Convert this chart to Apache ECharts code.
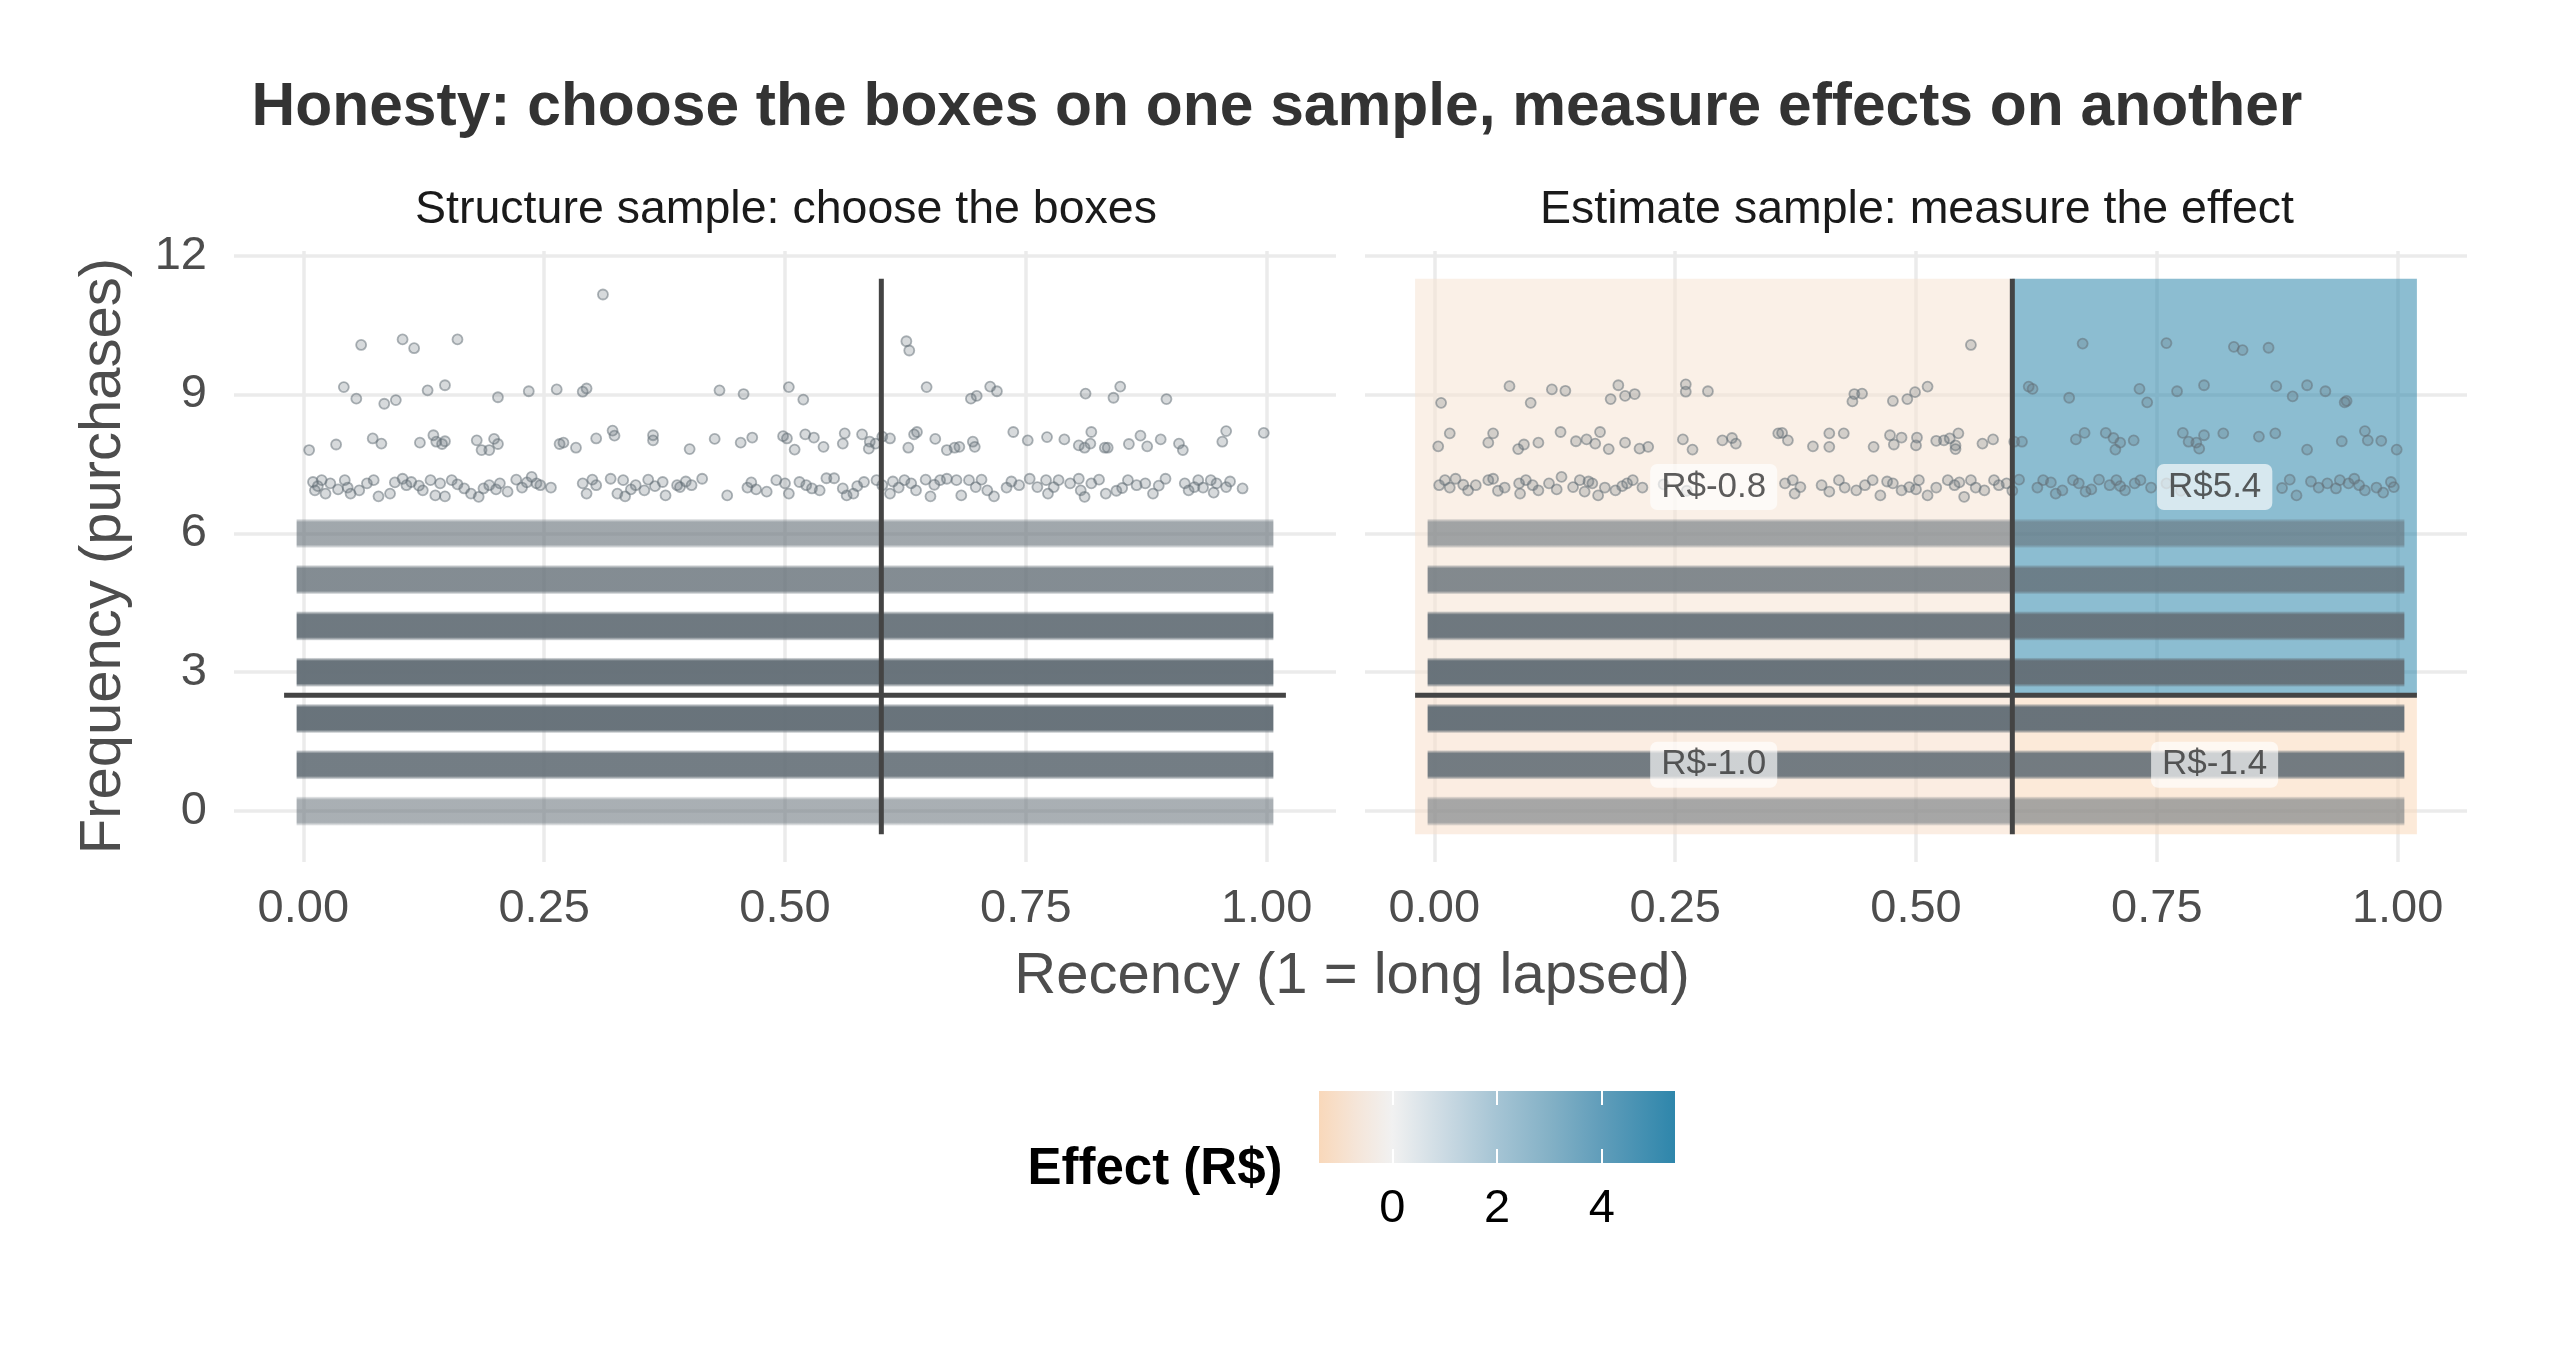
<!DOCTYPE html>
<html><head><meta charset="utf-8">
<script src="https://cdn.jsdelivr.net/npm/echarts@6/dist/echarts.min.js"></script>
<style>html,body{margin:0;padding:0;background:#fff}#c{width:2550px;height:1350px}</style>
</head><body><div id="c"></div>
<script>
// ---------- data ----------
const chartTitle = 'Honesty: choose the boxes on one sample, measure effects on another';
const panelTitles = ['Structure sample: choose the boxes', 'Estimate sample: measure the effect'];
const xTitle = 'Recency (1 = long lapsed)';
const yTitle = 'Frequency (purchases)';
const legendTitle = 'Effect (R$)';
const xTicks = [0, 0.25, 0.5, 0.75, 1];
const yTicks = [0, 3, 6, 9, 12];
const legendTicks = [0, 2, 4];
const effectRange = [-1.4, 5.4];
const splitX = 0.6;
const splitY = 2.5;
const boxX = [-0.02, 1.02];
const boxY = [-0.5, 11.5];
// leaves of the estimate sample: [x0, x1, y0, y1, effect]
const leaves = [
  [-0.02, 0.6, 2.5, 11.5, -0.8],
  [0.6, 1.02, 2.5, 11.5, 5.4],
  [-0.02, 0.6, -0.5, 2.5, -1.0],
  [0.6, 1.02, -0.5, 2.5, -1.4]
];
// dense frequency levels (0-6): estimated number of customers per level
const bandLevels = [0, 1, 2, 3, 4, 5, 6];
const bandCountsStructure = [600, 1730, 2630, 2600, 2000, 1200, 700];
const bandCountsEstimate = [620, 1730, 2630, 2600, 2000, 1200, 680];
// sparse customers (frequency 7 and above): [recency, jittered frequency]
const pointsStructure = [
  [0.311,11.16],
  [0.060,10.07],[0.103,10.19],[0.115,10.00],[0.160,10.19],[0.626,10.15],[0.629,9.95],
  [0.042,9.16],[0.055,8.91],[0.084,8.80],[0.096,8.88],[0.129,9.09],[0.147,9.20],[0.202,8.94],[0.234,9.07],[0.263,9.11],[0.290,9.06],[0.294,9.13],[0.432,9.09],[0.457,9.01],[0.504,9.16],[0.519,8.89],[0.647,9.16],[0.693,8.91],[0.699,8.97],[0.713,9.17],[0.720,9.07],[0.812,9.02],[0.841,8.93],[0.848,9.17],[0.896,8.90],
  [0.006,7.80],[0.034,7.92],[0.072,8.05],[0.081,7.94],[0.121,7.96],[0.135,8.12],[0.138,7.98],[0.144,7.93],[0.147,7.99],[0.180,8.01],[0.185,7.80],[0.193,7.80],[0.198,8.04],[0.202,7.93],[0.266,7.93],[0.270,7.96],[0.283,7.85],[0.304,8.05],[0.321,8.22],[0.323,8.11],[0.363,8.12],[0.363,8.01],[0.401,7.82],[0.427,8.04],[0.454,7.96],[0.466,8.07],[0.498,8.10],[0.502,8.05],[0.510,7.81],[0.521,8.14],[0.530,8.07],[0.540,7.87],[0.560,7.94],[0.562,8.16],[0.580,8.14],[0.587,7.83],[0.588,7.98],[0.594,7.94],[0.601,8.09],[0.609,8.05],[0.628,7.85],[0.634,8.14],[0.637,8.19],[0.656,8.04],[0.668,7.80],[0.676,7.85],[0.681,7.87],[0.695,7.98],[0.697,7.87],[0.737,8.19],[0.752,8.01],[0.772,8.08],[0.790,8.03],[0.805,7.90],[0.811,7.85],[0.817,7.94],[0.818,8.19],[0.832,7.85],[0.835,7.85],[0.857,7.93],[0.869,8.11],[0.876,7.88],[0.890,8.03],[0.909,7.94],[0.913,7.80],[0.954,7.98],[0.958,8.21],[0.997,8.17],
  [0.010,7.11],[0.012,6.93],[0.019,7.15],[0.023,6.86],[0.028,7.08],[0.043,7.15],[0.046,6.99],[0.049,6.86],[0.058,6.93],[0.066,7.08],[0.073,7.15],[0.078,6.80],[0.090,6.86],[0.103,7.18],[0.107,7.04],[0.112,7.11],[0.124,6.93],[0.132,7.15],[0.137,6.82],[0.142,7.08],[0.147,6.80],[0.154,7.15],[0.167,6.97],[0.174,6.86],[0.182,6.79],[0.187,6.97],[0.193,7.04],[0.204,7.08],[0.212,6.90],[0.221,7.16],[0.227,6.99],[0.237,7.22],[0.242,7.08],[0.246,7.04],[0.257,6.99],[0.290,7.08],[0.294,6.86],[0.304,7.04],[0.319,7.18],[0.326,6.86],[0.332,7.15],[0.334,6.80],[0.345,7.04],[0.354,6.93],[0.358,7.16],[0.373,7.11],[0.376,6.82],[0.388,7.04],[0.391,7.00],[0.403,7.04],[0.414,7.18],[0.440,6.82],[0.461,6.99],[0.470,6.95],[0.481,6.90],[0.491,7.15],[0.500,7.08],[0.504,6.86],[0.515,7.11],[0.522,7.04],[0.536,6.93],[0.543,7.19],[0.551,7.19],[0.560,6.97],[0.564,6.82],[0.571,6.86],[0.582,7.11],[0.595,7.15],[0.601,7.04],[0.609,6.86],[0.618,6.99],[0.624,7.15],[0.631,7.08],[0.636,6.93],[0.646,7.16],[0.651,6.80],[0.661,7.15],[0.668,7.18],[0.678,7.15],[0.683,6.82],[0.691,7.15],[0.704,7.16],[0.710,6.93],[0.717,6.80],[0.730,6.99],[0.743,7.04],[0.754,7.18],[0.762,7.00],[0.771,7.15],[0.773,6.86],[0.784,7.15],[0.796,7.08],[0.805,7.18],[0.807,6.93],[0.811,6.79],[0.826,7.16],[0.833,6.86],[0.844,6.92],[0.856,7.15],[0.865,7.04],[0.874,7.08],[0.882,6.86],[0.895,7.18],[0.915,7.08],[0.919,6.93],[0.929,7.15],[0.934,6.99],[0.942,7.15],[0.948,7.08],[0.958,7.00],[0.975,6.97],
  [0.015,7.02],[0.036,6.95],[0.095,7.10],[0.120,7.03],[0.160,7.06],[0.200,6.95],[0.232,7.10],[0.300,7.16],[0.340,6.95],[0.365,7.02],[0.397,7.12],[0.465,7.10],[0.528,6.97],[0.575,7.02],[0.612,7.12],[0.655,7.05],[0.698,7.00],[0.735,7.12],[0.779,7.00],[0.818,7.08],[0.850,6.98],[0.888,7.03],[0.925,7.00],[0.945,6.88],[0.962,7.12]
];
const pointsEstimate = [
  [0.557,10.07],[0.673,10.10],[0.760,10.11],[0.830,10.03],[0.839,9.96],[0.866,10.01],
  [0.007,8.82],[0.078,9.18],[0.100,8.82],[0.122,9.11],[0.136,9.08],[0.183,8.90],[0.191,9.20],[0.198,8.97],[0.208,9.01],[0.261,9.22],[0.261,9.06],[0.284,9.07],[0.434,8.85],[0.436,9.01],[0.444,9.02],[0.476,8.86],[0.491,8.90],[0.499,9.05],[0.512,9.17],[0.617,9.17],[0.621,9.12],[0.659,8.93],[0.732,9.12],[0.740,8.83],[0.771,9.07],[0.799,9.20],[0.874,9.18],[0.891,8.96],[0.906,9.20],[0.925,9.07],[0.945,8.83],[0.947,8.86],
  [0.004,7.88],[0.016,8.16],[0.056,7.96],[0.061,8.16],[0.087,7.82],[0.093,7.92],[0.108,7.96],[0.131,8.19],[0.147,7.99],[0.158,8.03],[0.167,7.94],[0.172,8.19],[0.181,7.82],[0.198,7.96],[0.213,7.83],[0.222,7.87],[0.258,8.03],[0.268,7.81],[0.299,8.01],[0.309,8.06],[0.313,7.94],[0.357,8.16],[0.361,8.17],[0.367,8.01],[0.393,7.88],[0.410,8.16],[0.410,7.87],[0.425,8.16],[0.456,7.87],[0.473,8.12],[0.477,7.92],[0.485,8.07],[0.500,7.90],[0.501,8.07],[0.521,8.00],[0.529,8.01],[0.535,8.05],[0.541,7.82],[0.541,7.90],[0.544,8.16],[0.569,7.94],[0.580,8.03],[0.602,7.98],[0.610,7.98],[0.666,8.03],[0.675,8.17],[0.697,8.17],[0.705,8.06],[0.707,7.81],[0.712,7.96],[0.726,8.01],[0.777,8.17],[0.783,7.98],[0.791,7.96],[0.794,7.83],[0.799,8.12],[0.819,8.16],[0.856,8.09],[0.873,8.16],[0.906,7.81],[0.942,7.99],[0.966,8.21],[0.969,8.01],[0.983,8.00],[0.999,7.81],
  [0.005,7.04],[0.011,7.15],[0.016,6.99],[0.022,7.18],[0.035,6.93],[0.043,7.04],[0.056,7.15],[0.061,7.18],[0.073,6.99],[0.088,7.08],[0.089,6.86],[0.102,7.04],[0.108,6.93],[0.119,7.08],[0.132,7.22],[0.144,7.00],[0.151,7.15],[0.156,6.90],[0.164,7.08],[0.170,6.82],[0.177,6.99],[0.188,6.93],[0.200,7.08],[0.206,7.15],[0.216,6.99],[0.364,7.08],[0.372,7.15],[0.374,6.86],[0.402,7.04],[0.420,7.15],[0.426,6.99],[0.438,6.93],[0.447,7.04],[0.455,7.15],[0.463,6.82],[0.476,7.08],[0.485,6.93],[0.493,7.00],[0.503,7.15],[0.512,6.82],[0.521,6.99],[0.533,7.15],[0.540,7.04],[0.550,6.79],[0.557,7.15],[0.562,6.99],[0.571,6.93],[0.581,7.15],[0.586,7.04],[0.594,7.08],[0.607,7.16],[0.626,6.99],[0.632,7.15],[0.645,6.86],[0.652,6.93],[0.663,7.15],[0.669,7.08],[0.682,6.95],[0.690,7.16],[0.701,7.04],[0.708,7.15],[0.717,6.93],[0.727,7.08],[0.733,7.15],[0.744,6.99],[0.888,7.16],[0.895,6.82],[0.918,6.99],[0.927,7.08],[0.936,6.97],[0.940,7.15],[0.949,7.08],[0.955,7.18],[0.966,6.93],[0.978,6.99],[0.993,7.11],[0.996,7.00],
  [0.030,7.05],[0.066,6.92],[0.095,7.15],[0.127,6.95],[0.160,7.12],[0.195,7.02],[0.238,7.06],[0.262,6.92],[0.380,7.00],[0.410,6.90],[0.470,7.12],[0.500,6.95],[0.545,7.10],[0.600,6.92],[0.640,7.10],[0.676,6.90],[0.712,7.02],[0.760,7.08],[0.775,6.92],[0.880,6.98],[0.910,7.12],[0.960,7.04],[0.985,6.88]
];
// diverging fill scale (value -> rgb)
const scaleStops = [
  [-1.4, [249, 216, 186]], [-0.7, [245, 229, 216]], [0, [241, 241, 241]],
  [1, [203, 218, 227]], [2, [165, 196, 212]], [3, [132, 177, 198]],
  [4, [96, 157, 186]], [5.4, [46, 134, 171]]
];

// ---------- helpers ----------
function colorAt(v) {
  for (let i = 0; i < scaleStops.length - 1; i++) {
    const [a, ca] = scaleStops[i], [b, cb] = scaleStops[i + 1];
    if (v <= b || i === scaleStops.length - 2) {
      const t = Math.max(0, Math.min(1, (v - a) / (b - a)));
      return 'rgb(' + ca.map((c, k) => Math.round(c + (cb[k] - c) * t)).join(',') + ')';
    }
  }
}
const FONT = '"Liberation Sans", Arial, Helvetica, sans-serif';
const PT = 'rgba(100,111,119,';
const gridColor = '#EBEBEB';

function panelX(idx) {
  return {
    gridIndex: idx, type: 'value', min: -0.072, max: 1.072,
    axisLine: { show: false },
    axisTick: { show: false, customValues: xTicks },
    axisLabel: { customValues: xTicks, formatter: v => v.toFixed(2), fontSize: 47, color: '#4D4D4D', fontFamily: FONT, margin: 24 },
    splitLine: { show: true, lineStyle: { color: gridColor, width: 3.5 } }
  };
}
function panelY(idx, showLabels) {
  return {
    gridIndex: idx, type: 'value', min: -1.1, max: 12.1,
    axisLine: { show: false },
    axisTick: { show: false, customValues: yTicks },
    axisLabel: { show: showLabels, customValues: yTicks, fontSize: 47, color: '#4D4D4D', fontFamily: FONT, margin: 27 },
    splitLine: { show: true, lineStyle: { color: gridColor, width: 3.5 } }
  };
}
function bandSeries(idx, counts) {
  return {
    type: 'custom', xAxisIndex: idx, yAxisIndex: idx, z: 3, silent: true,
    data: bandLevels.map((l, i) => [l, counts[i]]),
    renderItem: (p, api) => {
      const lvl = api.value(0), n = api.value(1);
      const op = 1 - Math.exp(-n / 750);
      const a = api.coord([-0.007, lvl + 0.32]), b = api.coord([1.007, lvl - 0.32]);
      const c = PT + op.toFixed(3) + ')', ch = PT + (op * 0.5).toFixed(3) + ')', c0 = PT + '0)';
      return {
        type: 'rect',
        shape: { x: a[0], y: a[1], width: b[0] - a[0], height: b[1] - a[1] },
        style: { fill: { type: 'linear', x: 0, y: 0, x2: 0, y2: 1, colorStops: [
          { offset: 0, color: c0 }, { offset: 0.05, color: ch }, { offset: 0.12, color: c },
          { offset: 0.88, color: c }, { offset: 0.95, color: ch }, { offset: 1, color: c0 }] } }
      };
    }
  };
}
function pointSeries(idx, pts) {
  return {
    type: 'scatter', xAxisIndex: idx, yAxisIndex: idx, z: 4, silent: true,
    symbolSize: 10, data: pts,
    itemStyle: { color: PT + '0.32)', borderColor: PT + '0.65)', borderWidth: 1.8 }
  };
}
function splitSeries(idx) {
  const ls = { color: '#444444', width: 5 };
  return [
    { type: 'line', xAxisIndex: idx, yAxisIndex: idx, z: 6, silent: true, symbol: 'none', lineStyle: ls,
      data: [[splitX, boxY[0]], [splitX, boxY[1]]] },
    { type: 'line', xAxisIndex: idx, yAxisIndex: idx, z: 6, silent: true, symbol: 'none', lineStyle: ls,
      data: [[boxX[0], splitY], [boxX[1], splitY]] }
  ];
}

const chart = echarts.init(document.getElementById('c'), null, { renderer: 'canvas' });
const option = {
  animation: false,
  backgroundColor: '#fff',
  grid: [
    { left: 234, top: 251, width: 1102, height: 611 },
    { left: 1365, top: 251, width: 1102, height: 611 },
    { left: 1319, top: 1091, width: 356, height: 72 }
  ],
  xAxis: [
    panelX(0), panelX(1),
    { gridIndex: 2, type: 'value', min: effectRange[0], max: effectRange[1], z: 10,
      axisLine: { show: false }, splitLine: { show: false },
      axisTick: { show: true, inside: true, length: 14, customValues: legendTicks, lineStyle: { color: '#fff', width: 2 } },
      axisLabel: { customValues: legendTicks, fontSize: 47, color: '#000', fontFamily: FONT, margin: 23 } },
    { gridIndex: 2, type: 'value', position: 'top', min: effectRange[0], max: effectRange[1], z: 10,
      axisLine: { show: false }, splitLine: { show: false },
      axisTick: { show: true, inside: true, length: 14, customValues: legendTicks, lineStyle: { color: '#fff', width: 2 } },
      axisLabel: { show: false } }
  ],
  yAxis: [
    panelY(0, true), panelY(1, false),
    { gridIndex: 2, type: 'value', min: 0, max: 1, show: false }
  ],
  graphic: [
    { type: 'text', x: 1277, y: 108, style: { text: chartTitle, fontSize: 60.5, fontWeight: 'bold', fontFamily: FONT, fill: '#333333', align: 'center', verticalAlign: 'middle' } },
    { type: 'text', x: 786, y: 210, style: { text: panelTitles[0], fontSize: 46.5, fontFamily: FONT, fill: '#1A1A1A', align: 'center', verticalAlign: 'middle' } },
    { type: 'text', x: 1917, y: 210, style: { text: panelTitles[1], fontSize: 46.5, fontFamily: FONT, fill: '#1A1A1A', align: 'center', verticalAlign: 'middle' } },
    { type: 'text', x: 1352, y: 977, style: { text: xTitle, fontSize: 58, fontFamily: FONT, fill: '#4D4D4D', align: 'center', verticalAlign: 'middle' } },
    { type: 'text', x: 104, y: 556, rotation: Math.PI / 2, style: { text: yTitle, fontSize: 58, fontFamily: FONT, fill: '#4D4D4D', align: 'center', verticalAlign: 'middle' } },
    { type: 'text', x: 1155, y: 1170, style: { text: legendTitle, fontSize: 51, fontWeight: 'bold', fontFamily: FONT, fill: '#000', align: 'center', verticalAlign: 'middle' } }
  ],
  series: [
    // estimate-sample leaves
    { type: 'custom', xAxisIndex: 1, yAxisIndex: 1, z: 1, silent: true, data: leaves,
      renderItem: (p, api) => {
        const a = api.coord([api.value(0), api.value(3)]), b = api.coord([api.value(1), api.value(2)]);
        return { type: 'rect', shape: { x: a[0], y: a[1], width: b[0] - a[0], height: b[1] - a[1] },
          style: { fill: colorAt(api.value(4)), opacity: 0.55 } };
      } },
    bandSeries(0, bandCountsStructure), bandSeries(1, bandCountsEstimate),
    pointSeries(0, pointsStructure), pointSeries(1, pointsEstimate),
    ...splitSeries(0), ...splitSeries(1),
    // effect labels at leaf centres
    { type: 'scatter', xAxisIndex: 1, yAxisIndex: 1, z: 8, silent: true, symbolSize: 1,
      itemStyle: { color: 'rgba(0,0,0,0)' },
      data: leaves.map(l => [(l[0] + l[1]) / 2, (l[2] + l[3]) / 2, l[4]]),
      label: { show: true, position: 'inside', formatter: p => 'R$' + p.value[2].toFixed(1),
        fontSize: 35, fontFamily: FONT, color: '#333333', backgroundColor: 'rgba(255,255,255,0.82)',
        padding: [6, 11, 5, 11], borderRadius: 7 } },
    // legend colour bar
    { type: 'custom', xAxisIndex: 2, yAxisIndex: 2, z: 1, silent: true, data: [[effectRange[0], effectRange[1]]],
      renderItem: (p, api) => {
        const a = api.coord([api.value(0), 1]), b = api.coord([api.value(1), 0]);
        const span = effectRange[1] - effectRange[0];
        return { type: 'rect', shape: { x: a[0], y: a[1], width: b[0] - a[0], height: b[1] - a[1] },
          style: { fill: { type: 'linear', x: 0, y: 0, x2: 1, y2: 0,
            colorStops: scaleStops.map(s => ({ offset: (s[0] - effectRange[0]) / span, color: colorAt(s[0]) })) } } };
      } }
  ]
};
chart.setOption(option);
</script></body></html>
